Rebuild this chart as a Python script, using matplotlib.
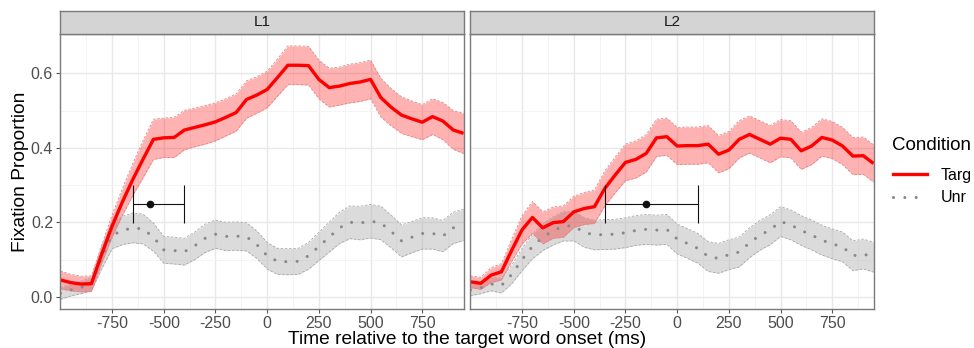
import matplotlib
matplotlib.use("Agg")
import matplotlib.pyplot as plt
from matplotlib.lines import Line2D
import numpy as np

plt.rcParams['font.family'] = ['Liberation Sans', 'DejaVu Sans']

# time bins (ms), 50 ms steps
time_ms = np.arange(-1000, 951, 50)

# L1 panel
l1_targ = [0.045, 0.038, 0.034, 0.035, 0.115, 0.19, 0.255, 0.315, 0.37, 0.423,
           0.427, 0.428, 0.448, 0.455, 0.462, 0.470, 0.482, 0.495, 0.530, 0.542,
           0.557, 0.589, 0.622, 0.622, 0.621, 0.584, 0.562, 0.566, 0.573, 0.577,
           0.584, 0.535, 0.509, 0.488, 0.478, 0.469, 0.484, 0.472, 0.448, 0.439]
l1_targ_se = [0.024, 0.022, 0.021, 0.021, 0.024, 0.030, 0.036, 0.043, 0.050, 0.054,
              0.053, 0.054, 0.053, 0.052, 0.052, 0.051, 0.050, 0.050, 0.050, 0.049,
              0.049, 0.050, 0.052, 0.052, 0.052, 0.052, 0.052, 0.051, 0.052, 0.052,
              0.052, 0.052, 0.050, 0.049, 0.048, 0.047, 0.048, 0.050, 0.052, 0.054]
l1_unr = [0.009, 0.018, 0.025, 0.034, 0.105, 0.165, 0.178, 0.185, 0.182, 0.16,
          0.126, 0.124, 0.121, 0.137, 0.157, 0.168, 0.162, 0.163, 0.161, 0.14,
          0.11, 0.095, 0.094, 0.095, 0.11, 0.135, 0.16, 0.185, 0.2, 0.198,
          0.203, 0.198, 0.175, 0.15, 0.16, 0.17, 0.17, 0.163, 0.185, 0.193]
l1_unr_se = [0.016, 0.016, 0.017, 0.018, 0.030, 0.036, 0.038, 0.040, 0.040, 0.038,
             0.036, 0.036, 0.036, 0.037, 0.038, 0.038, 0.038, 0.038, 0.038, 0.037,
             0.036, 0.035, 0.035, 0.035, 0.036, 0.038, 0.040, 0.042, 0.044, 0.045,
             0.045, 0.045, 0.044, 0.043, 0.042, 0.042, 0.042, 0.042, 0.042, 0.042]

# L2 panel
l2_targ = [0.04, 0.036, 0.058, 0.067, 0.125, 0.18, 0.213, 0.185, 0.199, 0.202,
           0.228, 0.237, 0.242, 0.291, 0.327, 0.361, 0.369, 0.385, 0.427, 0.43,
           0.405, 0.406, 0.406, 0.41, 0.383, 0.394, 0.423, 0.436, 0.423, 0.41,
           0.426, 0.423, 0.392, 0.405, 0.428, 0.421, 0.405, 0.378, 0.379, 0.358]
l2_targ_se = [0.016, 0.016, 0.020, 0.022, 0.030, 0.038, 0.043, 0.043, 0.042, 0.042,
              0.042, 0.043, 0.045, 0.047, 0.048, 0.049, 0.050, 0.050, 0.050, 0.050,
              0.050, 0.050, 0.050, 0.050, 0.050, 0.050, 0.050, 0.050, 0.050, 0.050,
              0.050, 0.050, 0.050, 0.050, 0.050, 0.050, 0.050, 0.050, 0.050, 0.050]
l2_unr = [0.018, 0.024, 0.034, 0.03, 0.06, 0.10, 0.135, 0.16, 0.177, 0.19,
          0.19, 0.173, 0.166, 0.167, 0.168, 0.172, 0.178, 0.181, 0.179, 0.181,
          0.155, 0.143, 0.13, 0.108, 0.103, 0.113, 0.12, 0.145, 0.165, 0.18,
          0.202, 0.193, 0.178, 0.166, 0.152, 0.142, 0.134, 0.11, 0.115, 0.106]
l2_unr_se = [0.015, 0.016, 0.018, 0.020, 0.025, 0.030, 0.033, 0.036, 0.038, 0.040,
             0.040, 0.040, 0.040, 0.040, 0.040, 0.040, 0.040, 0.040, 0.040, 0.040,
             0.040, 0.040, 0.040, 0.040, 0.040, 0.040, 0.040, 0.040, 0.040, 0.040,
             0.040, 0.040, 0.040, 0.040, 0.040, 0.040, 0.040, 0.040, 0.040, 0.040]

# divergence point estimate with interval (point, low, high, y)
l1_div = [-565, -650, -400, 0.25]
l2_div = [-150, -350, 100, 0.25]

panels = ["L1", "L2"]
targ_color = "#ff0000"
unr_color = "#888888"
dot_style = (0, (0.01, 3.7))

fig = plt.figure(figsize=(9.74, 3.48), dpi=100)
W, H = 974.0, 348.0
ax_lefts = [60, 470]
ax_width = 404
ax_top, ax_bot = 34, 309
strip_top = 11

data = [(l1_targ, l1_targ_se, l1_unr, l1_unr_se, l1_div),
        (l2_targ, l2_targ_se, l2_unr, l2_unr_se, l2_div)]

for i, name in enumerate(panels):
    targ, targ_se, unr, unr_se, div = data[i]
    targ = np.array(targ); targ_se = np.array(targ_se)
    unr = np.array(unr); unr_se = np.array(unr_se)

    ax = fig.add_axes([ax_lefts[i] / W, 1 - ax_bot / H, ax_width / W, (ax_bot - ax_top) / H])
    ax.set_xlim(-1002, 952)
    ax.set_ylim(-0.033, 0.706)

    # grid like ggplot theme_bw
    ax.set_xticks([-750, -500, -250, 0, 250, 500, 750])
    ax.set_xticks([-875, -625, -375, -125, 125, 375, 625, 875], minor=True)
    ax.set_yticks([0.0, 0.2, 0.4, 0.6])
    ax.set_yticks([0.1, 0.3, 0.5], minor=True)
    ax.grid(which='major', color='#e8e8e8', linewidth=1.0)
    ax.grid(which='minor', color='#f2f2f2', linewidth=0.6)
    ax.set_axisbelow(True)

    # unrelated ribbon + dotted line
    ax.fill_between(time_ms, unr - unr_se, unr + unr_se, color='#b8b8b8', alpha=0.5, linewidth=0)
    ax.plot(time_ms, unr - unr_se, color='#a8a8a8', lw=0.6, ls=(0, (3, 2)))
    ax.plot(time_ms, unr + unr_se, color='#a8a8a8', lw=0.6, ls=(0, (3, 2)))
    ax.plot(time_ms, unr, color=unr_color, lw=2.2, ls=dot_style, dash_capstyle='round')

    # target ribbon + line
    ax.fill_between(time_ms, targ - targ_se, targ + targ_se, color='#ff0000', alpha=0.3, linewidth=0)
    ax.plot(time_ms, targ - targ_se, color='#d88a8a', lw=0.6, ls=(0, (3, 2)))
    ax.plot(time_ms, targ + targ_se, color='#d88a8a', lw=0.6, ls=(0, (3, 2)))
    ax.plot(time_ms, targ, color=targ_color, lw=2.4, solid_capstyle='butt')

    # divergence estimate
    pt, lo, hi, yv = div
    ax.errorbar([pt], [yv], xerr=[[pt - lo], [hi - pt]], fmt='o', color='#111111',
                markersize=4.5, elinewidth=0.8, capsize=13.5, capthick=0.8)

    for s in ax.spines.values():
        s.set_color('#7a7a7a')
        s.set_linewidth(1.0)
    ax.tick_params(axis='both', which='major', length=3, color='#555555',
                   labelsize=11.5, labelcolor='#4d4d4d', pad=2)
    ax.tick_params(axis='both', which='minor', length=0)
    if i == 0:
        ax.set_yticklabels(['0.0', '0.2', '0.4', '0.6'])
    else:
        ax.tick_params(axis='y', which='major', labelleft=False, length=0)
    ax.set_xticklabels(['-750', '-500', '-250', '0', '250', '500', '750'])

    # strip header
    sax = fig.add_axes([ax_lefts[i] / W, 1 - ax_top / H, ax_width / W, (ax_top - strip_top) / H])
    sax.set_facecolor('#d4d4d4')
    sax.set_xticks([]); sax.set_yticks([])
    for s in sax.spines.values():
        s.set_color('#7a7a7a')
        s.set_linewidth(1.0)
    sax.text(0.5, 0.5, name, ha='center', va='center', fontsize=11, color='#1a1a1a',
             transform=sax.transAxes)

fig.text(467 / W, 1 - 343.5 / H, "Time relative to the target word onset (ms)",
         ha='center', va='baseline', fontsize=13.8, color='black')
fig.text(21 / W, 1 - 171.5 / H, "Fixation Proportion", rotation=90,
         ha='center', va='center', fontsize=13.8, color='black')

# legend: title drawn separately so its gap to the keys can match
fig.text(892 / W, 1 - 146 / H, "Condition", ha='left', va='center', fontsize=13.5)
handles = [Line2D([], [], color=targ_color, lw=2.4),
           Line2D([], [], color=unr_color, lw=2.2, ls=dot_style, dash_capstyle='round')]
fig.legend(handles, ["Targ", "Unr"], loc='upper left',
           bbox_to_anchor=(893 / W, 1 - 168 / H), frameon=False,
           fontsize=11.5, handlelength=2.1, handletextpad=0.9,
           labelspacing=0.45, borderaxespad=0, borderpad=0)

fig.savefig("out.png", dpi=100)
